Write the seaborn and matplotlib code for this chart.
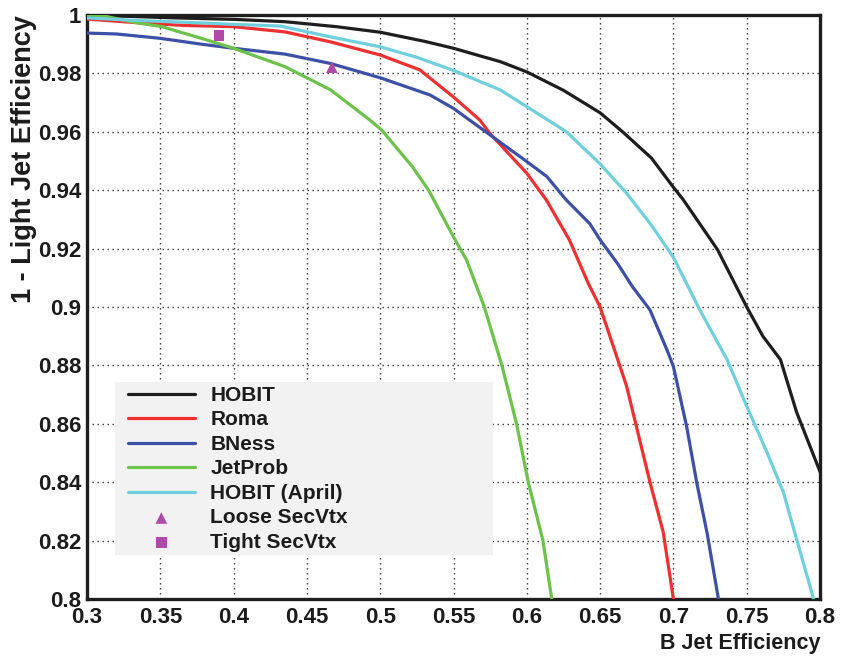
import matplotlib
matplotlib.use("Agg")
import matplotlib.pyplot as plt
import seaborn as sns
from matplotlib.patches import Rectangle
from matplotlib.ticker import MultipleLocator

# ---------------- data ----------------
hobit_x = [0.30, 0.33, 0.36, 0.40, 0.435, 0.47, 0.50, 0.53, 0.55, 0.582, 0.60, 0.625,
           0.65, 0.666, 0.685, 0.70, 0.7066, 0.73, 0.75, 0.761, 0.773, 0.784, 0.80]
hobit_y = [1.000, 0.9995, 0.999, 0.9985, 0.9977, 0.996, 0.9941, 0.991, 0.9886, 0.984,
           0.9805, 0.9742, 0.9665, 0.9597, 0.951, 0.941, 0.9368, 0.9197, 0.900, 0.890,
           0.882, 0.864, 0.8436]

roma_x = [0.30, 0.33, 0.367, 0.40, 0.435, 0.466, 0.50, 0.527, 0.55, 0.568, 0.5747, 0.60,
          0.6134, 0.629, 0.642, 0.65, 0.668, 0.684, 0.693, 0.70]
roma_y = [0.9986, 0.9975, 0.9964, 0.996, 0.9942, 0.9908, 0.9863, 0.9812, 0.9719, 0.964,
          0.9595, 0.9458, 0.9366, 0.923, 0.908, 0.900, 0.873, 0.840, 0.823, 0.800]

bness_x = [0.30, 0.32, 0.35, 0.378, 0.40, 0.435, 0.466, 0.50, 0.534, 0.55, 0.575, 0.60,
           0.6136, 0.627, 0.643, 0.65, 0.662, 0.672, 0.684, 0.6956, 0.70, 0.709, 0.716,
           0.723, 0.7307]
bness_y = [0.9938, 0.9935, 0.992, 0.990, 0.9886, 0.9866, 0.9834, 0.9785, 0.9726, 0.968,
           0.9589, 0.9498, 0.9447, 0.9366, 0.9285, 0.923, 0.9148, 0.907, 0.8990, 0.8853,
           0.8796, 0.8591, 0.8396, 0.8225, 0.800]

jetprob_x = [0.30, 0.312, 0.333, 0.351, 0.378, 0.40, 0.435, 0.466, 0.493, 0.501, 0.522,
             0.533, 0.55, 0.559, 0.571, 0.583, 0.593, 0.601, 0.611, 0.617]
jetprob_y = [1.000, 0.9996, 0.9974, 0.996, 0.992, 0.9886, 0.9823, 0.9744, 0.964, 0.9606,
             0.948, 0.940, 0.924, 0.916, 0.900, 0.880, 0.860, 0.840, 0.820, 0.800]

april_x = [0.30, 0.33, 0.367, 0.40, 0.432, 0.466, 0.50, 0.525, 0.55, 0.582, 0.60, 0.627,
           0.65, 0.668, 0.685, 0.70, 0.718, 0.7366, 0.75, 0.764, 0.775, 0.784, 0.7945, 0.7955]
april_y = [0.999, 0.9982, 0.9975, 0.9968, 0.9962, 0.9925, 0.9891, 0.9855, 0.981, 0.9743,
           0.9686, 0.960, 0.949, 0.939, 0.928, 0.917, 0.899, 0.882, 0.866, 0.850, 0.8366,
           0.8205, 0.802, 0.800]

loose_x = [0.467]
loose_y = [0.9821]
tight_x = [0.390]
tight_y = [0.9931]

x_ticks = [0.3, 0.35, 0.4, 0.45, 0.5, 0.55, 0.6, 0.65, 0.7, 0.75, 0.8]
x_tick_labels = ["0.3", "0.35", "0.4", "0.45", "0.5", "0.55", "0.6", "0.65", "0.7", "0.75", "0.8"]
y_ticks = [0.8, 0.82, 0.84, 0.86, 0.88, 0.9, 0.92, 0.94, 0.96, 0.98, 1.0]
y_tick_labels = ["0.8", "0.82", "0.84", "0.86", "0.88", "0.9", "0.92", "0.94", "0.96", "0.98", "1"]

# ---------------- style ----------------
sns.set_theme(style="white")
plt.rcParams["font.family"] = ["Liberation Sans", "DejaVu Sans"]
plt.rcParams["font.weight"] = "bold"

C_BLACK = "#1e1e1e"
C_RED = "#ee3030"
C_BLUE = "#3d4fa6"
C_GREEN = "#6cc24a"
C_CYAN = "#6fcfdc"
C_MAG = "#b04aa8"
TXT = "#1c1c1c"

fig = plt.figure(figsize=(8.44, 6.60), dpi=100)
ax = fig.add_axes([0.1031, 0.0924, 0.8685, 0.8849])

series = [
    ("HOBIT", hobit_x, hobit_y, C_BLACK),
    ("Roma", roma_x, roma_y, C_RED),
    ("BNess", bness_x, bness_y, C_BLUE),
    ("JetProb", jetprob_x, jetprob_y, C_GREEN),
    ("HOBIT (April)", april_x, april_y, C_CYAN),
]
for name, xs, ys, col in series:
    sns.lineplot(x=xs, y=ys, ax=ax, color=col, lw=2.3, sort=False,
                 estimator=None, label=name, zorder=3)

sns.scatterplot(x=loose_x, y=loose_y, ax=ax, marker="^", s=70, color=C_MAG,
                edgecolor="none", label="Loose SecVtx", zorder=4)
sns.scatterplot(x=tight_x, y=tight_y, ax=ax, marker="s", s=60, color=C_MAG,
                edgecolor="none", label="Tight SecVtx", zorder=4)

ax.set_xlim(0.3, 0.8)
ax.set_ylim(0.8, 1.0)
ax.set_xticks(x_ticks, labels=x_tick_labels)
ax.set_yticks(y_ticks, labels=y_tick_labels)
ax.xaxis.set_minor_locator(MultipleLocator(0.01))
ax.yaxis.set_minor_locator(MultipleLocator(0.005))

ax.set_axisbelow(True)
ax.grid(True, which="major", linestyle=(0, (1.0, 2.6)), color="#333333", lw=1.0)

for s in ax.spines.values():
    s.set_linewidth(2.4)
    s.set_color(C_BLACK)

ax.tick_params(axis="both", which="both", direction="in", top=False, right=False,
               colors=C_BLACK, labelcolor=TXT)
ax.tick_params(axis="x", which="major", length=12, width=1.9, labelsize=16, pad=6)
ax.tick_params(axis="x", which="minor", length=5.5, width=1.6)
ax.tick_params(axis="y", which="major", length=18, width=1.9, labelsize=16, pad=4)
ax.tick_params(axis="y", which="minor", length=8, width=1.6)
for lab in ax.get_xticklabels() + ax.get_yticklabels():
    lab.set_fontweight("bold")

ax.set_xlabel("B Jet Efficiency", loc="right", fontsize=15.5, fontweight="bold",
              color=TXT, labelpad=3)
ax.set_ylabel("1 - Light Jet Efficiency", loc="top", fontsize=19.5, fontweight="bold",
              color=TXT, labelpad=1)

# grey legend panel (ROOT style, no border)
ax.add_patch(Rectangle((0.0382, 0.0753), 0.5157, 0.2962, transform=ax.transAxes,
                       facecolor="#f2f2f2", edgecolor="none", zorder=2.5))

handles, labels = ax.get_legend_handles_labels()
leg = ax.legend(handles, labels, loc="upper left", bbox_to_anchor=(0.0559, 0.365),
                prop={"family": "Liberation Sans", "weight": "bold", "size": 15},
                frameon=False, handlelength=3.2, handletextpad=0.75, labelspacing=0.265,
                borderpad=0, borderaxespad=0)
leg.set_zorder(5)
for t in leg.get_texts():
    t.set_color(TXT)

fig.savefig("out.png", dpi=100)
